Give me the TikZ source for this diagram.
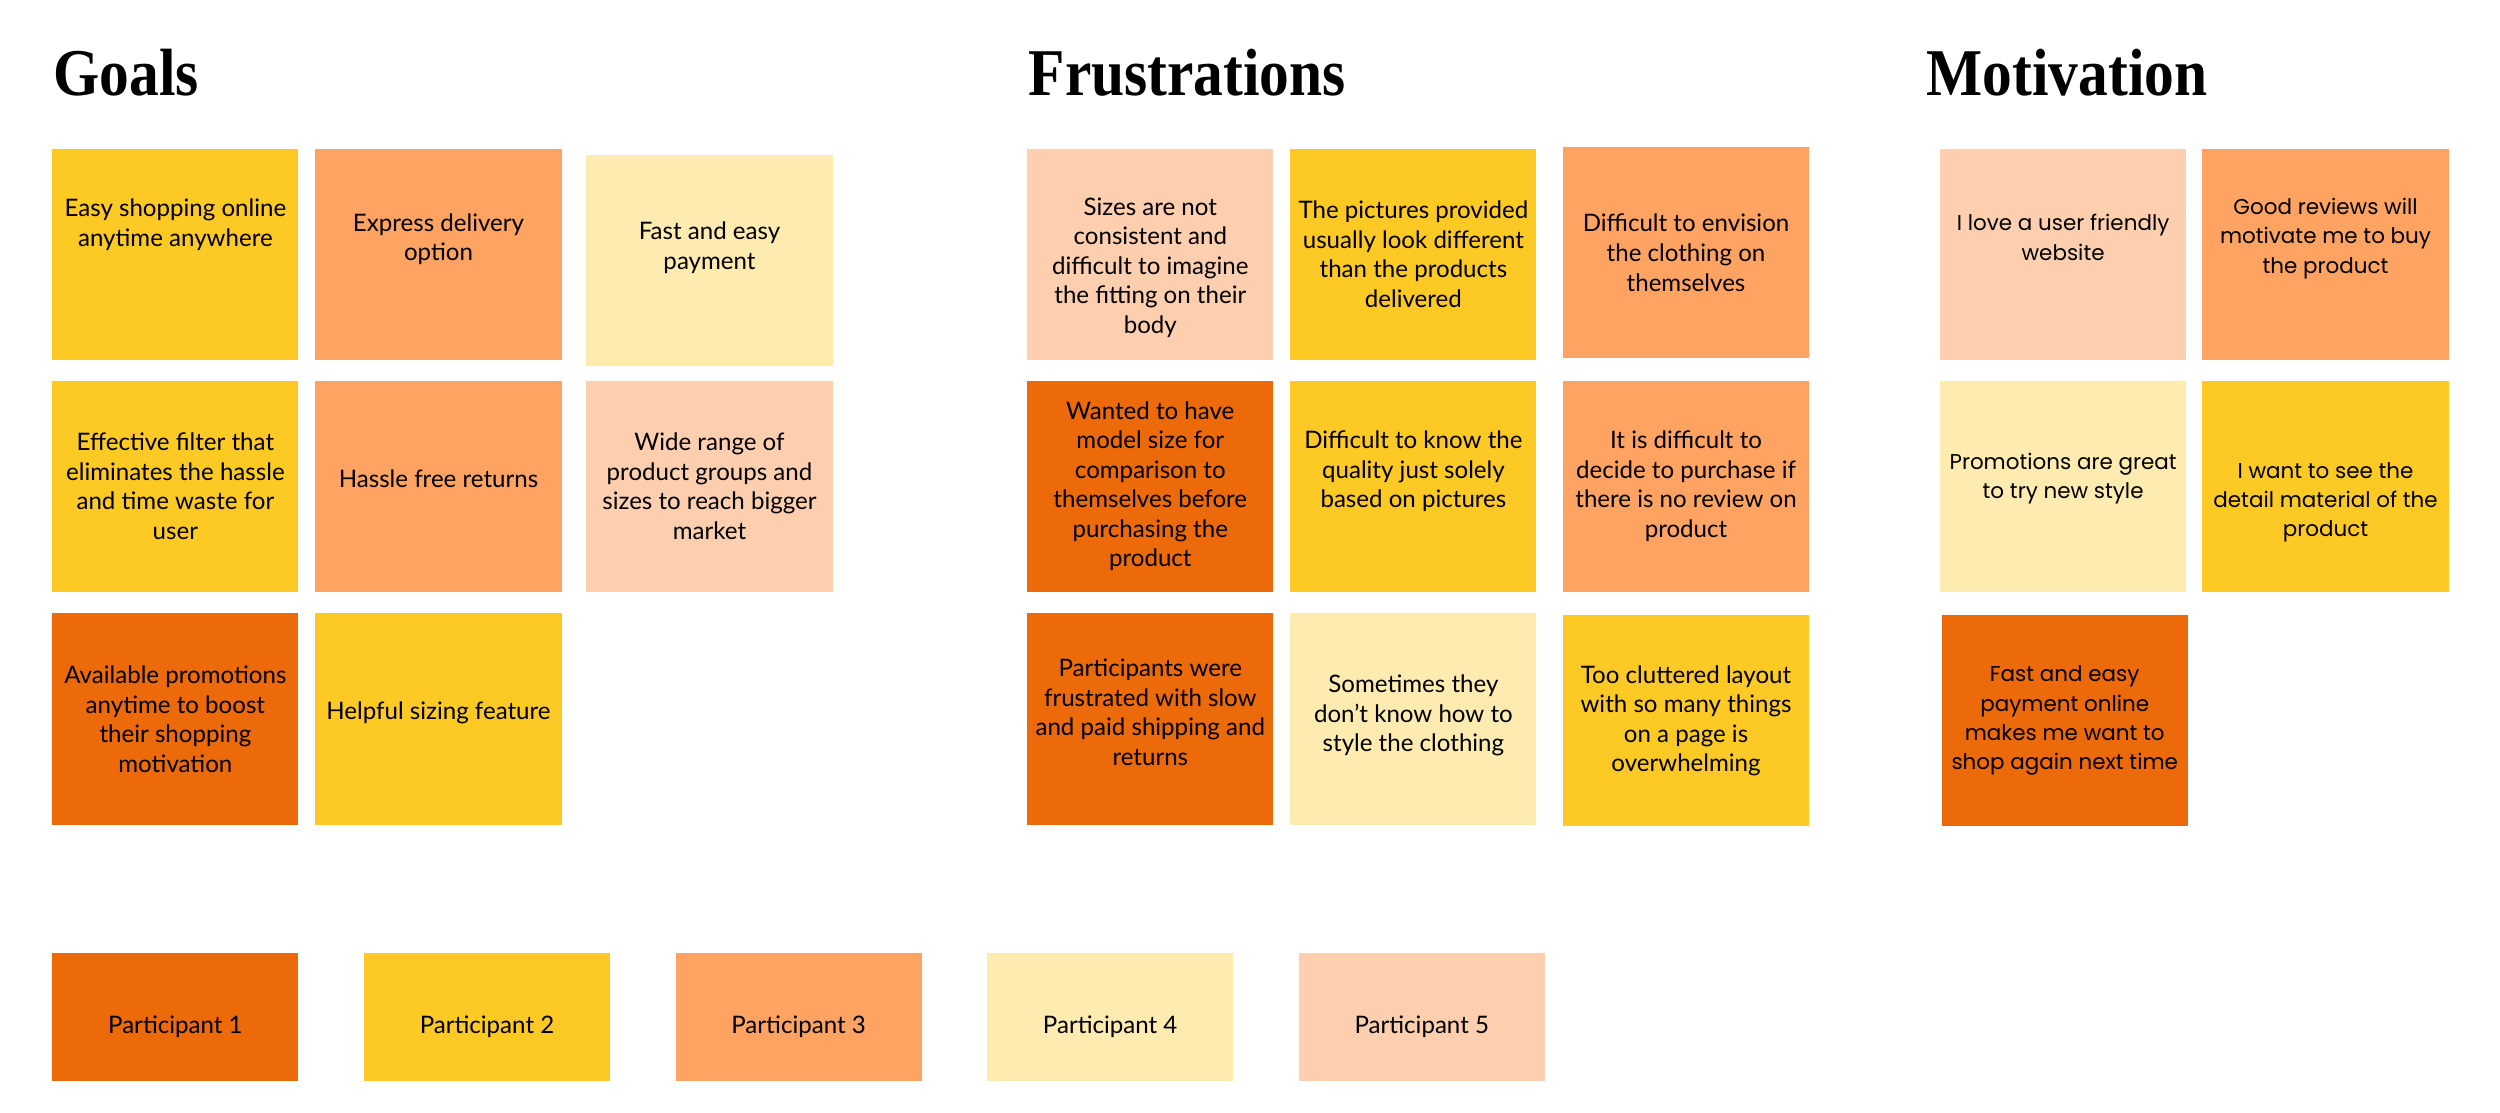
\documentclass[tikz,border=0pt]{standalone}
\usepackage{fontspec}
\setmainfont{Lato}
\newfontfamily\headfont{Liberation Serif}
\newfontfamily\motfont{Poppins}
\usetikzlibrary{positioning}
\definecolor{pOne}{RGB}{236,106,10}
\definecolor{pTwo}{RGB}{253,201,37}
\definecolor{pThree}{RGB}{254,163,98}
\definecolor{pFour}{RGB}{254,235,176}
\definecolor{pFive}{RGB}{253,207,175}
\newcommand{\lift}[1]{\rule[-#1]{0pt}{#1}}
\newcommand{\drop}[1]{\rule{0pt}{#1}}
\newcommand{\heading}[1]{\scalebox{0.89}[1]{#1}}

\begin{document}
\begin{tikzpicture}[
  x=0.01cm, y=-0.01cm,
  every node/.style={font=\fontsize{6.85}{8.4}\selectfont},
  sticky/.style={fill=#1, minimum width=2.46cm, minimum height=2.11cm,
                 inner sep=0pt, align=center},
  motsticky/.style={sticky=#1, font=\motfont\fontsize{6.1}{8.3}\selectfont},
  keybox/.style={fill=#1, minimum width=2.46cm, minimum height=1.275cm,
                 inner sep=0pt, text height=10.5pt, text depth=1.5pt},
  title/.style={anchor=base west, inner sep=0pt,
                font=\headfont\bfseries\fontsize{19}{22}\selectfont},
]
\fill[white] (0,0) rectangle (2500,1113);
\useasboundingbox (0,0) rectangle (2500,1113);

% Headings
\node[title] (tGoals) at (52.6,95.7) {\heading{Goals}};
\node[title] (tFrust) at (1028,95.7) {\heading{Frustrations}};
\node[title] (tMotiv) at (1926,95.7) {\heading{Motivation}};

% Goals
\node[sticky=pTwo] (g1) at (175.4,254.3) {Easy shopping online\\anytime anywhere\lift{18pt}};
\node[sticky=pThree] (g2) at (438.5,254.3) {Express delivery\\option\lift{9.7pt}};
\node[sticky=pFour] (g3) at (709.5,260.7) {Fast and easy\\payment\lift{8.7pt}};
\node[sticky=pTwo] (g4) at (175.4,486.3) {Effective filter that\\eliminates the hassle\\and time waste for\\user};
\node[sticky=pThree] (g5) at (438.5,486.3) {Hassle free returns\lift{4.6pt}};
\node[sticky=pFive] (g6) at (709.5,486.3) {Wide range of\\product groups and\\sizes to reach bigger\\market};
\node[sticky=pOne] (g7) at (175.4,719) {Available promotions\\anytime to boost\\their shopping\\motivation};
\node[sticky=pTwo] (g8) at (438.5,719) {Helpful sizing feature\lift{5pt}};

% Frustrations
\node[sticky=pFive] (f1) at (1150.3,254.3) {\drop{12.5pt}Sizes are not\\consistent and\\difficult to imagine\\the fitting on their\\body};
\node[sticky=pTwo] (f2) at (1413.4,254.3) {The pictures provided\\usually look different\\than the products\\delivered};
\node[sticky=pThree] (f3) at (1686,252.7) {Difficult to envision\\the clothing on\\themselves};
\node[sticky=pOne] (f4) at (1150.3,486.3) {Wanted to have\\model size for\\comparison to\\themselves before\\purchasing the\\product};
\node[sticky=pTwo] (f5) at (1413.4,486.3) {Difficult to know the\\quality just solely\\based on pictures\lift{9.7pt}};
\node[sticky=pThree] (f6) at (1686,486.3) {It is difficult to\\decide to purchase if\\there is no review on\\product};
\node[sticky=pOne] (f7) at (1150.3,719) {Participants were\\frustrated with slow\\and paid shipping and\\returns\lift{4pt}};
\node[sticky=pFour] (f8) at (1413.4,719) {Sometimes they\\don't know how to\\style the clothing\lift{3.3pt}};
\node[sticky=pTwo] (f9) at (1686,720.7) {Too cluttered layout\\with so many things\\on a page is\\overwhelming};

% Motivation
\node[motsticky=pFive] (m1) at (2063.1,254.3) {I love a user friendly\\website\lift{9.7pt}};
\node[motsticky=pThree] (m2) at (2325.5,254.3) {Good reviews will\\motivate me to buy\\the product\lift{10.5pt}};
\node[motsticky=pFour] (m3) at (2063.1,486.3) {Promotions are great\\to try new style\lift{6pt}};
\node[motsticky=pTwo] (m4) at (2325.5,486.3) {\drop{13.5pt}I want to see the\\detail material of the\\product};
\node[motsticky=pOne] (m5) at (2064.7,720.7) {Fast and easy\\payment online\\makes me want to\\shop again next time};

% Participants
\node[keybox=pOne] (p1) at (175.4,1017.2) {Participant 1};
\node[keybox=pTwo, right=0.64cm of p1] (p2) {Participant 2};
\node[keybox=pThree, right=0.64cm of p2] (p3) {Participant 3};
\node[keybox=pFour, right=0.64cm of p3] (p4) {Participant 4};
\node[keybox=pFive, right=0.64cm of p4] (p5) {Participant 5};

\end{tikzpicture}
\end{document}
